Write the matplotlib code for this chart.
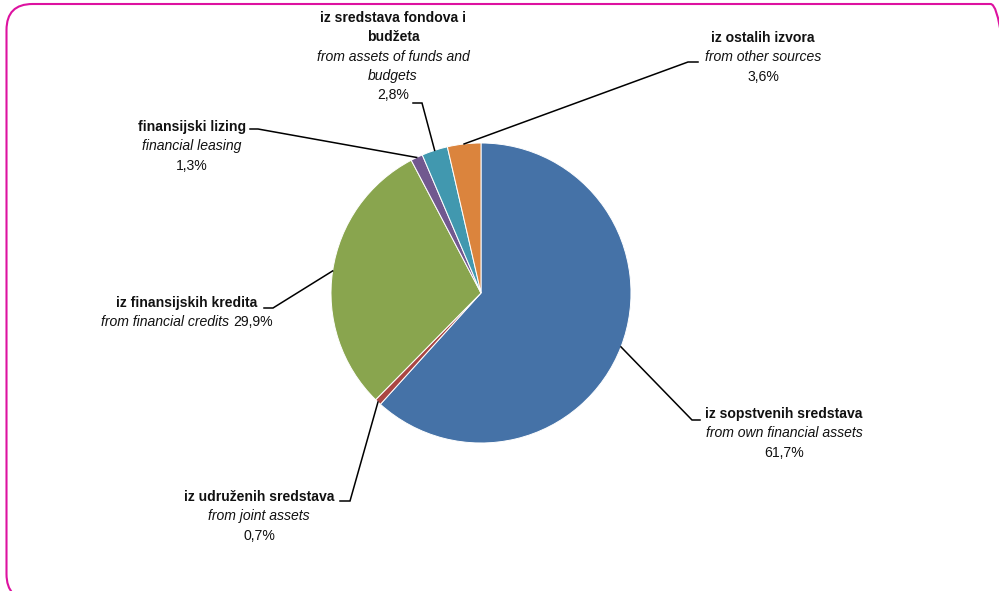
import numpy as np
import matplotlib
matplotlib.use("Agg")
import matplotlib.pyplot as plt
from matplotlib.patches import FancyBboxPatch

# ---- data ----
labels_sr = ["iz sopstvenih sredstava", "iz udruženih sredstava", "iz finansijskih kredita",
             "finansijski lizing", "iz sredstava fondova i\nbudžeta", "iz ostalih izvora"]
labels_en = ["from own financial assets", "from joint assets", "from financial credits",
             "financial leasing", "from assets of funds and\nbudgets", "from other sources"]
values = [61.7, 0.7, 29.9, 1.3, 2.8, 3.6]
value_text = ["61,7%", "0,7%", "29,9%", "1,3%", "2,8%", "3,6%"]
colors = ["#4572A7", "#AA4643", "#89A54E", "#71588F", "#4198AF", "#DB843D"]

W, H = 999, 591
fig = plt.figure(figsize=(W / 100, H / 100), dpi=100)
ax = fig.add_axes([0, 0, 1, 1])
ax.set_xlim(0, W)
ax.set_ylim(0, H)
ax.set_aspect("equal")
ax.axis("off")

def Y(p):
    return H - p

FAM = ["Liberation Sans Narrow", "Liberation Sans", "DejaVu Sans"]
FS = 10.1

# border
border = FancyBboxPatch((6.5, Y(600)), 1010, 596, boxstyle="round,pad=0,rounding_size=26",
                        fill=False, edgecolor="#DD12A0", linewidth=1.5, clip_on=True)
ax.add_patch(border)

cx, cy, r = 481, Y(293), 150
wedges, _ = ax.pie(values, colors=colors, startangle=90, counterclock=False,
                   center=(cx, cy), radius=r,
                   wedgeprops=dict(edgecolor="white", linewidth=0.7))
ax.set_xlim(0, W)
ax.set_ylim(0, H)

# label layouts: elbow point, end point, text center x, first line y
layout = [
    dict(elbow=(692, 420), end=(700, 420), cx=784, y0=414),
    dict(elbow=(350, 501), end=(340, 501), cx=259, y0=497),
    dict(elbow=(273, 308), end=(264, 308), cx=187, y0=303),
    dict(elbow=(258, 129), end=(250, 129), cx=192, y0=127),
    dict(elbow=(422, 103), end=(413, 103), cx=393, y0=18),
    dict(elbow=(688, 62), end=(698, 62), cx=763, y0=38),
]
LS = 19.3

for i, w in enumerate(wedges):
    th = np.deg2rad((w.theta1 + w.theta2) / 2)
    ax_pt = (cx + r * np.cos(th), cy + r * np.sin(th))
    L = layout[i]
    ex, ey = L["elbow"]
    nx, ny = L["end"]
    ax.plot([ax_pt[0], ex, nx], [ax_pt[1], Y(ey), Y(ny)], color="black", lw=1.1,
            solid_joinstyle="miter")

    lines = []
    for s in labels_sr[i].split("\n"):
        lines.append((s, "bold", "normal"))
    if i == 2:
        lines.append(("__mixed__", None, None))
    else:
        for s in labels_en[i].split("\n"):
            lines.append((s, "normal", "italic"))
        lines.append((value_text[i], "normal", "normal"))
    y = L["y0"]
    for s, wt, st in lines:
        if s == "__mixed__":
            t1 = ax.text(0, 0, labels_en[i] + " ", fontsize=FS, family=FAM, style="italic",
                         color="#111111")
            t2 = ax.text(0, 0, value_text[i], fontsize=FS, family=FAM, color="#111111")
            fig.canvas.draw()
            rnd = fig.canvas.get_renderer()
            w1 = t1.get_window_extent(rnd).width
            w2 = t2.get_window_extent(rnd).width
            x0 = L["cx"] - (w1 + w2) / 2
            t1.set_position((x0, Y(y)))
            t1.set_va("center"); t1.set_ha("left")
            t2.set_position((x0 + w1, Y(y)))
            t2.set_va("center"); t2.set_ha("left")
        else:
            ax.text(L["cx"], Y(y), s, fontsize=FS, family=FAM, fontweight=wt,
                    style=st, ha="center", va="center", color="#111111")
        y += LS

fig.savefig("out.png", dpi=100)
